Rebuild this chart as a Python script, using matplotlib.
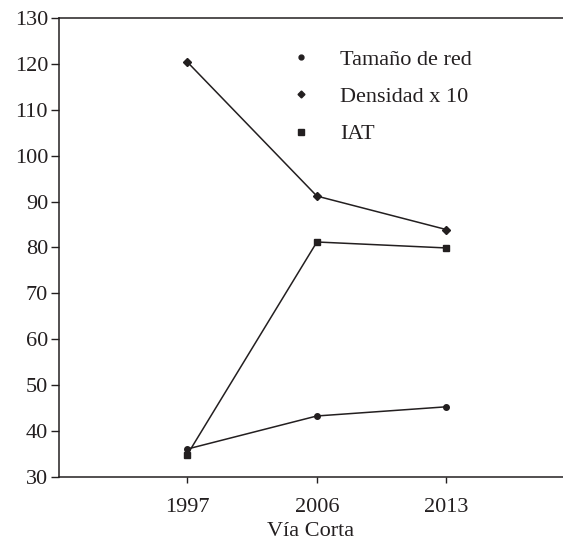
import matplotlib
matplotlib.use("Agg")
import matplotlib.pyplot as plt
from matplotlib.lines import Line2D

years = ["1997", "2006", "2013"]
tamano = [36.1, 43.3, 45.3]
densidad = [120.4, 91.2, 83.9]
iat = [34.9, 81.2, 79.9]
series_names = ["Tamaño de red", "Densidad x 10", "IAT"]
yticks = [30, 40, 50, 60, 70, 80, 90, 100, 110, 120, 130]
xlabel = "Vía Corta"

plt.rcParams['font.family'] = ['Liberation Serif', 'DejaVu Serif']

fs = 16
fig = plt.figure(figsize=(5.63, 5.43), dpi=100)
ax = fig.add_axes([0.105, 0.1215, 0.895, 0.8454])

x = list(range(1, len(years) + 1))
c = "#231f20"
ax.plot(x, tamano, color=c, lw=1.1, marker="o", ms=4, zorder=3)
ax.plot(x, densidad, color=c, lw=1.1, marker="D", ms=4, zorder=3)
ax.plot(x, iat, color=c, lw=1.1, marker="s", ms=5, zorder=3)

ax.set_xlim(0.01, 3.9)
ax.set_ylim(30, 130)
ax.set_yticks(yticks)
ax.set_xticks(x)
ax.set_xticklabels(years)
ax.set_xlabel(xlabel, fontsize=fs, labelpad=4)
ax.tick_params(axis="both", labelsize=fs, color=c, labelcolor=c, width=1)
ax.tick_params(axis="y", length=6, pad=2)
ax.tick_params(axis="x", length=4, pad=11)
ax.xaxis.label.set_color(c)
for s in ["left", "top", "bottom"]:
    ax.spines[s].set_color(c)
    ax.spines[s].set_linewidth(1.1)
ax.spines["right"].set_visible(False)

handles = [
    Line2D([], [], color=c, ls="none", marker="o", ms=3.5),
    Line2D([], [], color=c, ls="none", marker="D", ms=3.5),
    Line2D([], [], color=c, ls="none", marker="s", ms=4.5),
]
leg = ax.legend(handles, series_names, loc="upper left", bbox_to_anchor=(0.414, 0.975),
                frameon=False, fontsize=fs, handlelength=1.2, handletextpad=1.15,
                labelspacing=0.75, labelcolor=c)

fig.savefig("out.png", dpi=100)
